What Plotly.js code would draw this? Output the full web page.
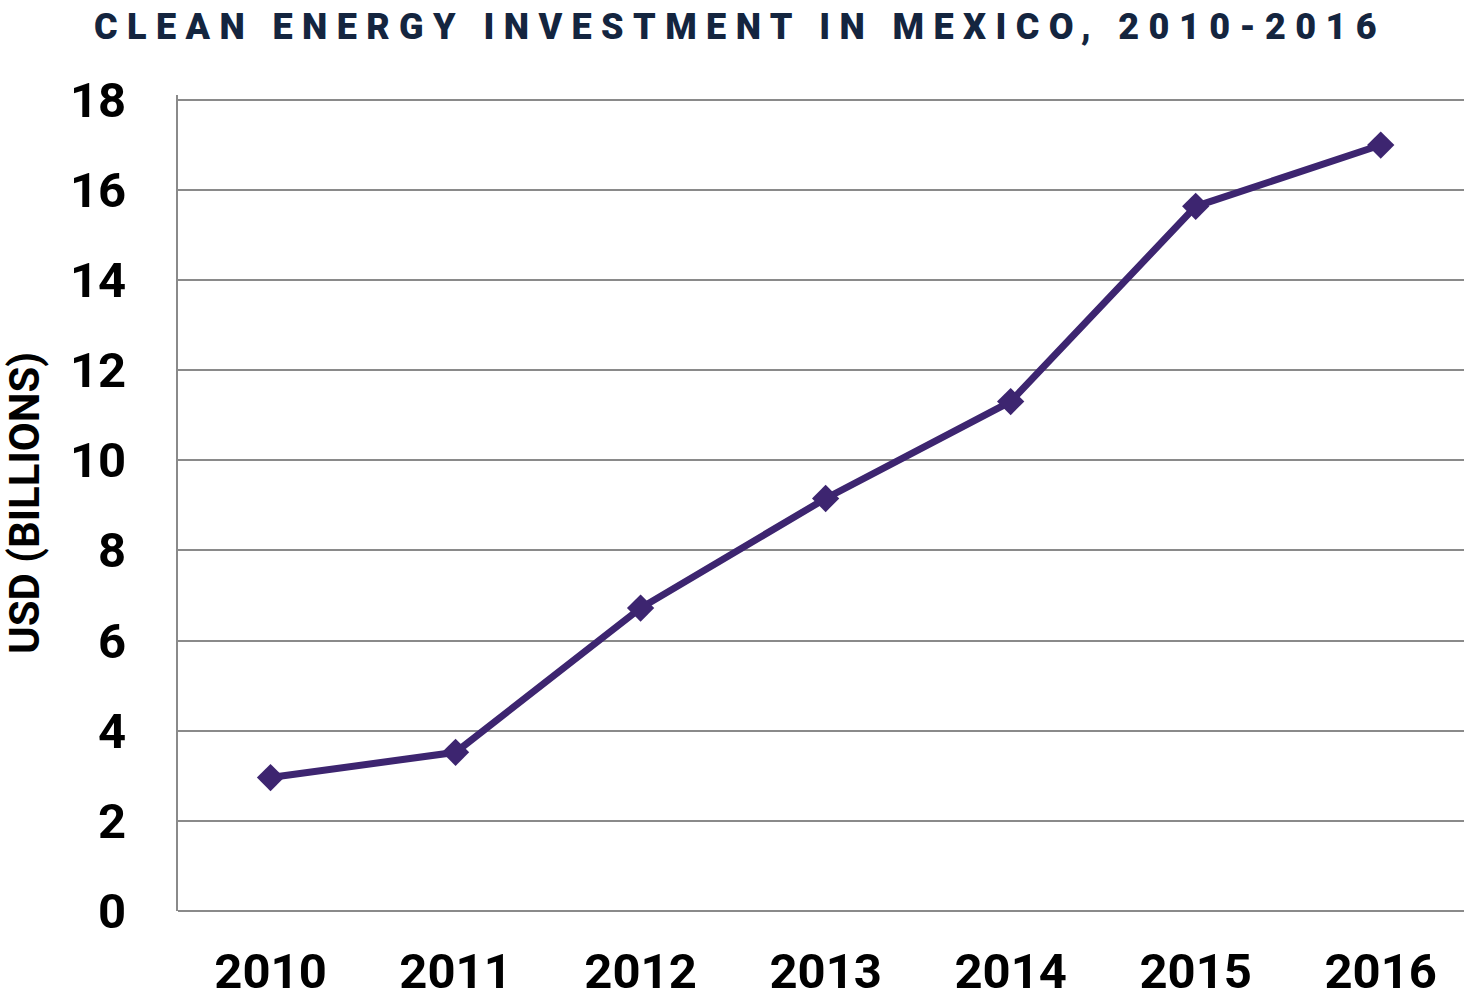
<!DOCTYPE html>
<html>
<head>
<meta charset="utf-8">
<script src="https://cdn.plot.ly/plotly-3.0.1.min.js"></script>
<style>
  html, body { margin: 0; padding: 0; background: #ffffff; }
  #chart { width: 1464px; height: 1002px; }
  .gtitle { letter-spacing: 9.4px; }
</style>
</head>
<body>
<div id="chart"></div>
<script>
const years = ['2010', '2011', '2012', '2013', '2014', '2015', '2016'];
const investmentUSDBillions = [2.96, 3.52, 6.72, 9.15, 11.30, 15.63, 16.99];
const yTickValues = [0, 2, 4, 6, 8, 10, 12, 14, 16, 18];
const chartTitle = 'CLEAN ENERGY INVESTMENT IN MEXICO, 2010-2016';
const yAxisTitle = 'USD (BILLIONS)';

const labelFont = 'Roboto, sans-serif';

const trace = {
  type: 'scatter',
  mode: 'lines+markers',
  x: years,
  y: investmentUSDBillions,
  line: { color: '#3d2570', width: 7 },
  marker: { symbol: 'diamond', size: 21, color: '#3d2570' },
  hoverinfo: 'x+y'
};

const layout = {
  width: 1464,
  height: 1002,
  paper_bgcolor: '#ffffff',
  plot_bgcolor: '#ffffff',
  margin: { l: 178, r: 0, t: 95, b: 91 },
  showlegend: false,
  title: {
    text: chartTitle,
    x: 0.5055,
    xref: 'container',
    xanchor: 'center',
    y: 0.974,
    yanchor: 'middle',
    font: { family: 'Roboto, Liberation Sans, sans-serif', size: 36, color: '#14253f', weight: 900 }
  },
  xaxis: {
    type: 'category',
    range: [-0.5, 6.45],
    showgrid: false,
    zeroline: false,
    showline: false,
    ticks: '',
    ticklabelstandoff: 27,
    tickfont: { family: labelFont, size: 49, color: '#000000', weight: 'bold' },
    fixedrange: true
  },
  yaxis: {
    range: [0, 18.1],
    tickvals: yTickValues,
    showgrid: true,
    gridcolor: '#8a8a8a',
    gridwidth: 2,
    zeroline: true,
    zerolinecolor: '#8a8a8a',
    zerolinewidth: 2,
    showline: true,
    linecolor: '#8a8a8a',
    linewidth: 2,
    ticks: '',
    ticklabelstandoff: 40,
    tickfont: { family: labelFont, size: 49, color: '#000000', weight: 'bold' },
    title: {
      text: yAxisTitle,
      standoff: 42,
      font: { family: labelFont, size: 42, color: '#000000', weight: 'bold' }
    },
    fixedrange: true
  }
};

Plotly.newPlot('chart', [trace], layout, { displayModeBar: false });
</script>
</body>
</html>
